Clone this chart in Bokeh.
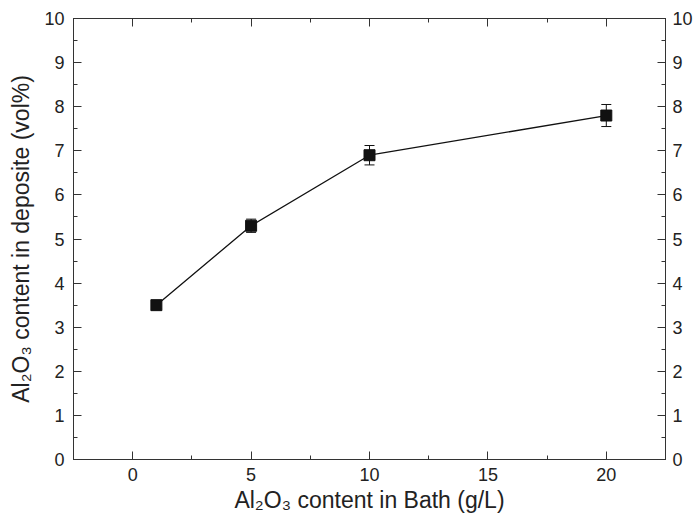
from bokeh.plotting import figure
from bokeh.models import ColumnDataSource, LinearAxis, Range1d, Whisker, TeeHead, CustomJSTickFormatter, SingleIntervalTicker
from bokeh.embed import file_html
from bokeh.resources import INLINE

# Data
bath = [1, 5, 10, 20]
deposit = [3.5, 5.3, 6.9, 7.8]
err = [0.08, 0.15, 0.22, 0.25]

x_ticks = [0, 5, 10, 15, 20]
y_ticks = [0, 1, 2, 3, 4, 5, 6, 7, 8, 9, 10]

src = ColumnDataSource(dict(
    x=bath, y=deposit,
    lower=[v - e for v, e in zip(deposit, err)],
    upper=[v + e for v, e in zip(deposit, err)],
))

FONT = "Liberation Sans"
AX = "#333333"

p = figure(width=696, height=524, output_backend="svg", toolbar_location=None,
           x_range=Range1d(-2.5, 22.5), y_range=Range1d(0, 10),
           x_axis_label="Al₂O₃ content in Bath (g/L)",
           y_axis_label="Al₂O₃ content in deposite (vol%)",
           min_border_left=73, min_border_right=31, min_border_top=18, min_border_bottom=65)
p.grid.visible = False
p.outline_line_color = AX

def style(ax):
    ax.major_tick_in = 8
    ax.major_tick_out = 0
    ax.minor_tick_in = 4
    ax.minor_tick_out = 0
    ax.axis_line_color = AX
    ax.major_tick_line_color = AX
    ax.minor_tick_line_color = AX
    ax.major_label_text_font = FONT
    ax.major_label_text_font_size = "18px"
    ax.major_label_text_color = "#222222"
    ax.axis_label_text_font = FONT
    ax.axis_label_text_font_size = "23px"
    ax.axis_label_text_font_style = "normal"
    ax.axis_label_text_color = "#222222"

p.xaxis.ticker = SingleIntervalTicker(interval=5, num_minor_ticks=2)
p.yaxis.ticker = SingleIntervalTicker(interval=1, num_minor_ticks=2)
for ax in p.xaxis + p.yaxis:
    style(ax)
p.xaxis.major_label_standoff = 8
p.xaxis.axis_label_standoff = 3
p.yaxis.major_label_standoff = 9
p.yaxis.axis_label_standoff = 7

top = LinearAxis(ticker=SingleIntervalTicker(interval=5, num_minor_ticks=2),
                 formatter=CustomJSTickFormatter(code="return ''"))
style(top)
top.major_label_standoff = 0
p.add_layout(top, "above")

right = LinearAxis(ticker=SingleIntervalTicker(interval=1, num_minor_ticks=2))
style(right)
right.major_label_standoff = 7
p.add_layout(right, "right")

p.line("x", "y", source=src, line_color="#111111", line_width=1.3)
w = Whisker(base="x", lower="lower", upper="upper", source=src,
            line_color="#111111", line_width=1,
            upper_head=TeeHead(size=10, line_color="#111111", line_width=1),
            lower_head=TeeHead(size=10, line_color="#111111", line_width=1))
p.add_layout(w)
p.scatter("x", "y", source=src, marker="square", size=11, fill_color="#111111", line_color="#111111")

open("out.html", "w").write(file_html(p, INLINE))
